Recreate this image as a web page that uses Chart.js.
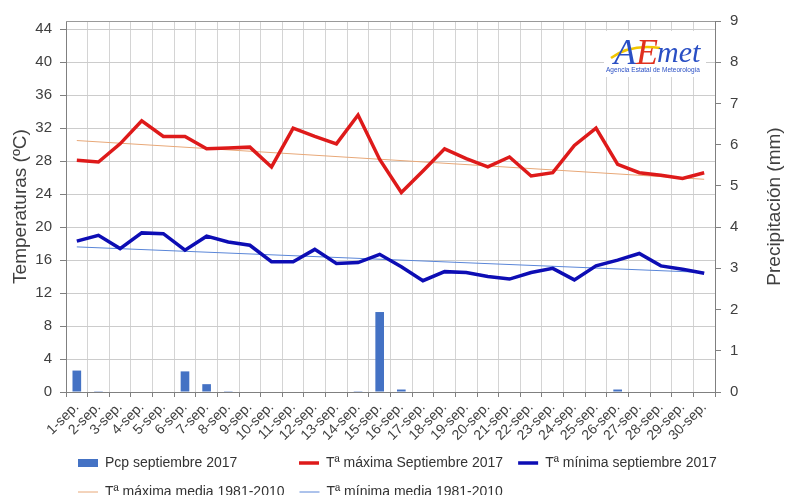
<!DOCTYPE html>
<html>
<head>
<meta charset="utf-8">
<script src="https://cdn.jsdelivr.net/npm/chart.js@4.4.1/dist/chart.umd.min.js"></script>
<style>
html,body{margin:0;padding:0;background:#fff;overflow:hidden;}
#wrap{position:relative;width:786px;height:509px;}
</style>
</head>
<body>
<div id="wrap"><canvas id="c"></canvas></div>
<script>
const categories = ['1-sep.','2-sep.','3-sep.','4-sep.','5-sep.','6-sep.','7-sep.','8-sep.','9-sep.','10-sep.',
  '11-sep.','12-sep.','13-sep.','14-sep.','15-sep.','16-sep.','17-sep.','18-sep.','19-sep.','20-sep.',
  '21-sep.','22-sep.','23-sep.','24-sep.','25-sep.','26-sep.','27-sep.','28-sep.','29-sep.','30-sep.'];
const pcp = [0.52,0.02,0,0,0,0.50,0.19,0.02,0,0,0,0,0,0.02,1.94,0.06,0,0,0,0,0,0,0,0,0,0.06,0,0,0,0];
const tmax = [28.1,27.9,30.1,32.9,31.0,31.0,29.5,29.6,29.7,27.3,32.0,31.0,30.1,33.6,28.2,24.2,26.8,29.5,28.3,27.3,28.5,26.2,26.6,29.9,32.0,27.6,26.6,26.3,25.9,26.6];
const tmin = [18.3,19.0,17.4,19.3,19.2,17.2,18.9,18.2,17.8,15.8,15.8,17.3,15.6,15.7,16.7,15.2,13.5,14.6,14.5,14.0,13.7,14.5,15.0,13.6,15.3,16.0,16.8,15.3,14.9,14.4];
const tmaxMedia = [30.5,null,null,null,null,null,null,null,null,null,null,null,null,null,null,null,null,null,null,null,null,null,null,null,null,null,null,null,null,25.8];
const tminMedia = [17.6,null,null,null,null,null,null,null,null,null,null,null,null,null,null,null,null,null,null,null,null,null,null,null,null,null,null,null,null,14.5];
const tempTicks = [0,4,8,12,16,20,24,28,32,36,40,44];
const pcpTicks = [0,1,2,3,4,5,6,7,8,9];
const seriesNames = ['Pcp septiembre 2017','Tª máxima Septiembre 2017','Tª mínima septiembre 2017','Tª máxima media 1981-2010','Tª mínima media 1981-2010'];
const axisTitles = ['Temperaturas (ºC)','Precipitación (mm)'];
const logoText = ['A','E','met','Agencia Estatal de Meteorología'];

const FONT = "'Liberation Sans', Arial, sans-serif";
Chart.defaults.font.family = FONT;
Chart.defaults.color = '#404040';

const framePlugin = {
  id: 'frame',
  afterLayout(chart) {
    // legend columns start where the reference's legend starts
    if (chart.legend) { chart.legend.left = 63; }
  },
  beforeDatasetsDraw(chart) {
    const {ctx, chartArea: a} = chart;
    ctx.save();
    ctx.strokeStyle = '#9a9a9a';
    ctx.lineWidth = 1;
    ctx.beginPath();
    ctx.moveTo(a.left, Math.round(a.top) + 0.5);
    ctx.lineTo(a.right, Math.round(a.top) + 0.5);
    ctx.stroke();
    ctx.restore();
  }
};

const extrasPlugin = {
  id: 'extras',
  afterDraw(chart) {
    const ctx = chart.ctx;
    const a = chart.chartArea;
    // right axis title (reads bottom to top)
    ctx.save();
    ctx.translate(775, (a.top + a.bottom) / 2);
    ctx.rotate(-Math.PI / 2);
    ctx.font = '19px ' + FONT;
    ctx.fillStyle = '#404040';
    ctx.textAlign = 'center';
    ctx.textBaseline = 'middle';
    ctx.fillText(axisTitles[1], 0, 0);
    ctx.restore();
    // logo
    ctx.save();
    ctx.fillStyle = '#ffffff';
    ctx.fillRect(604, 31, 102, 46);
    ctx.strokeStyle = '#f2c500';
    ctx.lineWidth = 2.5;
    ctx.beginPath();
    ctx.moveTo(611, 58);
    ctx.quadraticCurveTo(630, 44, 660, 48);
    ctx.stroke();
    ctx.font = 'italic 36px "Liberation Serif", serif';
    ctx.textBaseline = 'alphabetic';
    ctx.fillStyle = '#2a4fc4';
    ctx.fillText(logoText[0], 614, 64);
    ctx.fillStyle = '#e0301e';
    ctx.fillText(logoText[1], 636, 64);
    ctx.fillStyle = '#2a4fc4';
    ctx.font = 'italic 30px "Liberation Serif", serif';
    ctx.fillText(logoText[2], 657, 62);
    ctx.font = '6.5px ' + FONT;
    ctx.fillStyle = '#2a4fc4';
    ctx.fillText(logoText[3], 606, 72);
    ctx.restore();
  }
};

new Chart(document.getElementById('c'), {
  data: {
    labels: categories,
    datasets: [
      { type: 'bar', label: seriesNames[0], data: pcp, yAxisID: 'y1',
        backgroundColor: '#4472C4', borderWidth: 0, barPercentage: 0.4, categoryPercentage: 1,
        pointStyle: 'rect' },
      { type: 'line', label: seriesNames[1], data: tmax, yAxisID: 'y',
        borderColor: '#DE1A1A', backgroundColor: '#DE1A1A', borderWidth: 3.5, pointRadius: 0, tension: 0,
        pointStyle: 'line' },
      { type: 'line', label: seriesNames[2], data: tmin, yAxisID: 'y',
        borderColor: '#0D0DB4', backgroundColor: '#0D0DB4', borderWidth: 3.5, pointRadius: 0, tension: 0,
        pointStyle: 'line' },
      { type: 'line', label: seriesNames[3], data: tmaxMedia, yAxisID: 'y', spanGaps: true,
        borderColor: '#E8A878', backgroundColor: '#E8A878', borderWidth: 1, pointRadius: 0, tension: 0,
        pointStyle: 'line' },
      { type: 'line', label: seriesNames[4], data: tminMedia, yAxisID: 'y', spanGaps: true,
        borderColor: '#5A86D8', backgroundColor: '#5A86D8', borderWidth: 1, pointRadius: 0, tension: 0,
        pointStyle: 'line' }
    ]
  },
  options: {
    responsive: true,
    maintainAspectRatio: false,
    animation: false,
    layout: { padding: { left: 0, top: 21, right: 0, bottom: 0 } },
    plugins: {
      tooltip: { enabled: false },
      legend: {
        position: 'bottom',
        align: 'start',
        labels: {
          usePointStyle: true,
          pointStyleWidth: 20,
          boxHeight: 8,
          padding: 15,
          color: '#333333',
          font: { size: 14, family: FONT },
          generateLabels(chart) {
            const items = Chart.defaults.plugins.legend.labels.generateLabels(chart);
            const c = chart.ctx;
            c.save();
            c.font = '14px ' + FONT;
            const w0 = c.measureText(items[0].text).width;
            const w3 = c.measureText(items[3].text).width;
            const sp = c.measureText(' ').width;
            c.restore();
            const n = Math.max(0, Math.round((w3 - w0) / sp));
            items[0].text = items[0].text + ' '.repeat(n);
            return items;
          }
        }
      }
    },
    scales: {
      x: {
        type: 'category',
        offset: true,
        grid: { offset: true, color: '#d4d4d4', tickColor: '#808080', tickLength: 5, lineWidth: 1 },
        border: { color: '#808080', width: 1 },
        ticks: { autoSkip: false, minRotation: 45, maxRotation: 45, padding: 2,
                 font: { size: 14, family: FONT }, color: '#404040' },
        afterFit(s) { s.height = 49; }
      },
      y: {
        type: 'linear',
        position: 'left',
        min: 0, max: 45,
        afterBuildTicks(s) { s.ticks = tempTicks.map(v => ({ value: v })); },
        grid: { color: '#cccccc', borderDash: [2, 2], tickColor: '#808080', tickLength: 6, tickBorderDash: [] },
        border: { color: '#808080', width: 1 },
        ticks: { padding: 8, font: { size: 15, family: FONT }, color: '#404040' },
        title: { display: true, text: axisTitles[0], font: { size: 19, family: FONT }, color: '#404040',
                 padding: { top: 9, bottom: 0 } },
        afterFit(s) { s.width = 66; }
      },
      y1: {
        type: 'linear',
        position: 'right',
        min: 0, max: 9,
        afterBuildTicks(s) { s.ticks = pcpTicks.map(v => ({ value: v })); },
        grid: { drawOnChartArea: false, tickColor: '#808080', tickLength: 6 },
        border: { color: '#808080', width: 1 },
        ticks: { padding: 9, font: { size: 15, family: FONT }, color: '#404040' },
        title: { display: false },
        afterFit(s) { s.width = 71; }
      }
    }
  },
  plugins: [framePlugin, extrasPlugin]
});
</script>
</body>
</html>
